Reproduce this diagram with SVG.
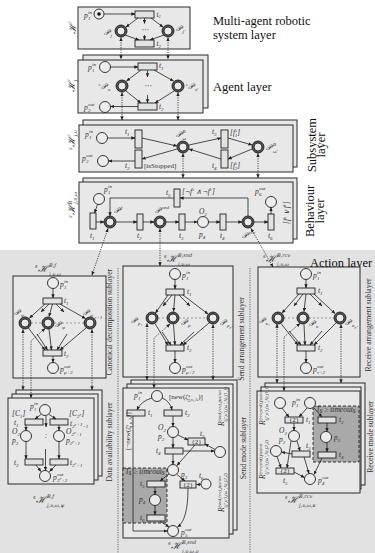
<svg xmlns="http://www.w3.org/2000/svg" width="375" height="553" viewBox="0 0 375 553">
<defs>
<style>
.bx{fill:#e8e8e8;stroke:#2a2a2a;stroke-width:1}
.tr{fill:#e2e2e2;stroke:#222;stroke-width:0.9}
.pl{fill:#ececec;stroke:#222;stroke-width:0.9}
.ar{fill:none;stroke:#222;stroke-width:0.8;marker-end:url(#ah)}
.dt{fill:none;stroke:#333;stroke-width:0.9;stroke-dasharray:1.2 1.2;marker-start:url(#ah);marker-end:url(#ah)}
.dl{fill:none;stroke:#666;stroke-width:0.6;stroke-dasharray:2 2}
.dv{fill:none;stroke:#444;stroke-width:0.8;stroke-dasharray:1.2 1.2}
.m{font-family:"Liberation Serif",serif;font-style:italic;font-size:7.5px;fill:#333}
.r{font-family:"Liberation Serif",serif;font-size:7px;fill:#333}
.s{font-size:5px}
.c{font-family:"DejaVu Serif","Liberation Serif",serif;font-style:italic;font-size:10px;fill:#333}
.t{font-family:"Liberation Serif",serif;font-size:12.5px;fill:#111}
.sl{font-family:"Liberation Serif",serif;font-size:7.7px;fill:#333}
.gb{fill:#a9a9a9;stroke:#222;stroke-width:0.9;stroke-dasharray:3 2}
</style>
<marker id="ah" viewBox="0 0 6 6" refX="5.5" refY="3" markerWidth="4" markerHeight="4" markerUnits="userSpaceOnUse" orient="auto-start-reverse"><path d="M0,0.5 L6,3 L0,5.5 z" fill="#222"/></marker>
<g id="dp"><circle r="6" fill="#555" stroke="#111" stroke-width="0.8"/><circle r="4" fill="#eaeaea" stroke="#111" stroke-width="0.8"/></g>
</defs>
<rect x="0" y="0" width="375" height="553" fill="#ffffff"/>
<rect x="0" y="250" width="375" height="303" fill="#e2e2e2"/>

<g id="mars">
<rect class="bx" x="78" y="7" width="112" height="42"/>
<text class="c" font-size="11" transform="translate(76,28) rotate(-90)" text-anchor="middle">ℋ</text>
<circle class="pl" cx="99" cy="14" r="5"/><circle cx="99" cy="14" r="1.8" fill="#111"/>
<text class="m"><tspan x="84" y="18">p</tspan><tspan class="s" x="88" y="14">in</tspan><tspan class="s" x="88" y="20">1</tspan></text>
<rect class="tr" x="135" y="11" width="19" height="7"/>
<text class="m" x="156.5" y="16.5">t<tspan class="s" dy="1.5">1</tspan></text>
<use href="#dp" x="121" y="31"/><use href="#dp" x="168" y="31"/>
<text class="m"><tspan x="103.5" y="35">𝒫</tspan><tspan class="s" x="110.5" y="37">j</tspan></text>
<text class="m"><tspan x="175.5" y="31">𝒫</tspan><tspan class="s" x="182.5" y="33">j′</tspan></text>
<text class="m" x="144.5" y="32" text-anchor="middle">⋯</text>
<rect class="tr" x="135" y="40" width="19" height="7"/>
<text class="m" x="156.5" y="46">t<tspan class="s" dy="1.5">2</tspan></text>
<text class="t" font-size="12px"><tspan x="213" y="25">Multi-agent robotic</tspan><tspan x="213" y="38.5">system layer</tspan></text>
</g>

<g id="agent">
<rect class="bx" x="83" y="55" width="125" height="53"/>
<rect class="bx" x="78" y="60" width="125" height="53"/>
<text class="c" font-size="11" transform="translate(75,86) rotate(-90)" text-anchor="middle">ℋ<tspan class="s" dy="2">j</tspan></text>
<circle class="pl" cx="105" cy="67" r="5.5"/>
<text class="m"><tspan x="88" y="70">p</tspan><tspan class="s" x="92" y="66">in</tspan><tspan class="s" x="92" y="72">1</tspan></text>
<rect class="tr" x="138" y="63" width="19" height="7"/>
<text class="m" x="159" y="68">t<tspan class="s" dy="1.5">1</tspan></text>
<use href="#dp" x="122" y="86"/><use href="#dp" x="178" y="86"/>
<text class="m"><tspan class="s" x="98.5" y="86">s</tspan><tspan x="101" y="89">𝒫</tspan><tspan class="s" x="108" y="91">υ</tspan></text>
<text class="m"><tspan class="s" x="185.5" y="86">s</tspan><tspan x="188" y="89">𝒫</tspan><tspan class="s" x="195" y="91">υ′</tspan></text>
<text class="m" x="147.5" y="88" text-anchor="middle">⋯</text>
<rect class="tr" x="138" y="103" width="19" height="7"/>
<text class="m" x="159" y="109">t<tspan class="s" dy="1.5">2</tspan></text>
<circle class="pl" cx="105" cy="107" r="5.5"/>
<text class="m"><tspan x="84" y="110">p</tspan><tspan class="s" x="88" y="106">out</tspan><tspan class="s" x="88" y="112">2</tspan></text>
<text class="t" x="213" y="91">Agent layer</text>
</g>

<g id="subsystem">
<rect class="bx" x="83" y="120" width="214" height="47"/>
<rect class="bx" x="79" y="125" width="214" height="47"/>
<text class="c" font-size="11" transform="translate(75,140) rotate(-90)" text-anchor="middle"><tspan class="s" dy="-3">s</tspan><tspan dy="3">ℋ</tspan><tspan class="s" dy="2">j,υ</tspan></text>
<circle class="pl" cx="102" cy="138" r="5.5"/>
<text class="m"><tspan x="85" y="137">p</tspan><tspan class="s" x="89" y="133">in</tspan><tspan class="s" x="89" y="139">1</tspan></text>
<circle class="pl" cx="103" cy="161" r="5.5"/>
<text class="m"><tspan x="82" y="161">p</tspan><tspan class="s" x="86" y="157">out</tspan><tspan class="s" x="86" y="163">2</tspan></text>
<rect class="tr" x="135" y="130" width="7" height="18"/>
<rect class="tr" x="135" y="150" width="7" height="18"/>
<text class="m" x="125" y="134">t<tspan class="s" dy="1.5">1</tspan></text>
<text class="m" x="125" y="168">t<tspan class="s" dy="1.5">2</tspan></text>
<text class="r" x="144" y="168">[isStopped]</text>
<use href="#dp" x="183" y="147"/>
<text class="m"><tspan x="175.5" y="137">𝒫</tspan><tspan class="s" x="182.5" y="133">B</tspan><tspan class="s" x="182.5" y="139.5">ω</tspan></text>
<rect class="tr" x="221" y="130" width="7" height="18"/>
<rect class="tr" x="221" y="150" width="7" height="18"/>
<text class="m" x="212" y="134">t<tspan class="s" dy="1.5">3</tspan></text>
<text class="m" x="212" y="168">t<tspan class="s" dy="1.5">4</tspan></text>
<text class="m" x="230" y="135">[f<tspan class="s" dy="-3">s</tspan><tspan class="s" dx="-2.3" dy="5">1</tspan><tspan dy="-2">]</tspan></text>
<text class="m" x="230" y="168">[f<tspan class="s" dy="-3">s</tspan><tspan class="s" dx="-2.3" dy="5">2</tspan><tspan dy="-2">]</tspan></text>
<use href="#dp" x="258" y="147"/>
<text class="m"><tspan x="266" y="150">𝒫</tspan><tspan class="s" x="273" y="146">B</tspan><tspan class="s" x="273" y="152.5">ω′</tspan></text>
<text class="t" transform="translate(316,145) rotate(-90)" text-anchor="middle">Subsystem</text>
<text class="t" transform="translate(325,145) rotate(-90)" text-anchor="middle">layer</text>
</g>

<g id="behaviour">
<rect class="bx" x="83" y="178" width="214" height="61"/>
<rect class="bx" x="79" y="182" width="214" height="61"/>
<text class="c" font-size="11" transform="translate(75,205) rotate(-90)" text-anchor="middle"><tspan class="s" dy="-3">s</tspan><tspan dy="3">ℋ</tspan><tspan class="s" dy="-3">B</tspan><tspan class="s" dx="-3" dy="5">j,υ,ω</tspan></text>
<circle class="pl" cx="99" cy="199" r="5.5"/>
<text class="m"><tspan x="104" y="192">p</tspan><tspan class="s" x="108" y="188">in</tspan><tspan class="s" x="108" y="194">1</tspan></text>
<rect class="tr" x="90" y="213" width="6" height="16"/>
<text class="m" x="90" y="238">t<tspan class="s" dy="1.5">1</tspan></text>
<use href="#dp" x="110" y="222"/>
<text class="m"><tspan x="114" y="213">𝒫</tspan><tspan class="s" x="121" y="209">f</tspan></text>
<rect class="tr" x="137" y="214" width="6" height="16"/>
<text class="m" x="137" y="238">t<tspan class="s" dy="1.5">2</tspan></text>
<use href="#dp" x="160" y="222"/>
<text class="m"><tspan x="155" y="213">𝒫</tspan><tspan class="s" x="162" y="209">snd</tspan></text>
<rect class="tr" x="179" y="214" width="6" height="16"/>
<text class="m" x="179" y="238">t<tspan class="s" dy="1.5">3</tspan></text>
<circle class="pl" cx="203" cy="222" r="5.5"/>
<text class="m" x="199" y="214">O<tspan class="s" dy="1.5">2</tspan></text>
<text class="m" x="199" y="237">p<tspan class="s" dy="1.5">4</tspan></text>
<rect class="tr" x="220" y="214" width="6" height="16"/>
<text class="m" x="220" y="238">t<tspan class="s" dy="1.5">4</tspan></text>
<use href="#dp" x="248" y="222"/>
<text class="m"><tspan x="242" y="238">𝒫</tspan><tspan class="s" x="249" y="234">rcv</tspan></text>
<rect class="tr" x="268" y="214" width="6" height="16"/>
<text class="m" x="268" y="238">t<tspan class="s" dy="1.5">6</tspan></text>
<circle class="pl" cx="271" cy="202" r="5.5"/>
<text class="m"><tspan x="255" y="194">p</tspan><tspan class="s" x="259" y="190">out</tspan><tspan class="s" x="259" y="196">6</tspan></text>
<rect class="tr" x="174" y="189" width="6" height="18"/>
<text class="m" x="166" y="195">t<tspan class="s" dy="1.5">5</tspan></text>
<text class="m" x="182" y="194">[¬f<tspan class="s" dy="-3">s</tspan><tspan dy="3"> ∧ ¬f</tspan><tspan class="s" dy="-3">r</tspan><tspan dy="3">]</tspan></text>
<text class="m" transform="translate(289,224) rotate(-90)">[f<tspan class="s" dy="-3">s</tspan><tspan dy="3"> ∨ f</tspan><tspan class="s" dy="-3">r</tspan><tspan dy="3">]</tspan></text>
<text class="t" transform="translate(314,211) rotate(-90)" text-anchor="middle">Behaviour</text>
<text class="t" transform="translate(324,211) rotate(-90)" text-anchor="middle">layer</text>
</g>

<g id="action-layer">
<text class="t" x="310" y="267">Action layer</text>
<path class="dv" d="M118,268 V553 M250,268 V553"/>
<text class="sl" transform="translate(112,322) rotate(-90)" text-anchor="middle">Canonical decomposition sublayer</text>
<text class="sl" transform="translate(112,442) rotate(-90)" text-anchor="middle">Data availability sublayer</text>
<text class="sl" transform="translate(244,339) rotate(-90)" text-anchor="middle">Send arrangement sublayer</text>
<text class="sl" transform="translate(246,448) rotate(-90)" text-anchor="middle">Send mode sublayer</text>
<text class="sl" transform="translate(371,325) rotate(-90)" text-anchor="middle">Receive arrangement sublayer</text>
<text class="sl" transform="translate(373,437) rotate(-90)" text-anchor="middle">Receive mode sublayer</text>
</g>

<g id="canonical">
<text class="c" font-size="9"><tspan class="s" x="35" y="268">s</tspan><tspan x="38" y="272">ℋ</tspan><tspan class="s" x="49" y="266.5">B,f</tspan><tspan class="s" x="49" y="275.5">j,υ,ω</tspan></text>
<rect class="bx" x="13" y="276" width="93" height="102"/>
<circle class="pl" cx="53" cy="283" r="5.5"/>
<text class="m"><tspan x="60" y="287">p</tspan><tspan class="s" x="64" y="283">in</tspan><tspan class="s" x="64" y="289">1</tspan></text>
<rect class="tr" x="43" y="298" width="19" height="6"/>
<text class="m" x="64" y="303">t<tspan class="s" dy="1.5">1</tspan></text>
<use href="#dp" x="25" y="323"/><use href="#dp" x="48" y="323"/><use href="#dp" x="90" y="323"/>
<text class="m"><tspan x="14" y="315">𝒫</tspan><tspan class="s" x="21" y="317">ψ₁</tspan></text>
<text class="m"><tspan x="55" y="327">𝒫</tspan><tspan class="s" x="62" y="329">ψ</tspan></text>
<text class="m"><tspan x="83" y="315">𝒫</tspan><tspan class="s" x="90" y="317">ψ</tspan><tspan class="s" font-size="3.6px" x="94.5" y="318.5">r+1</tspan></text>
<path class="dl" d="M31,323 H42 M54,323 H84"/>
<rect class="tr" x="43" y="350" width="19" height="6"/>
<text class="m" x="64" y="356">t<tspan class="s" dy="1.5">2</tspan></text>
<circle class="pl" cx="53" cy="368" r="5.5"/>
<text class="m"><tspan x="60" y="372">p</tspan><tspan class="s" x="64" y="368">out</tspan><tspan class="s" x="64" y="374">μ+3</tspan></text>
</g>

<g id="data-availability">
<rect class="bx" x="16" y="390" width="86" height="86"/>
<rect class="bx" x="12" y="394" width="86" height="86"/>
<rect class="bx" x="8" y="398" width="86" height="86"/>
<circle class="pl" cx="45" cy="410" r="5.5"/>
<text class="m"><tspan x="30" y="409">p</tspan><tspan class="s" x="34" y="405">in</tspan><tspan class="s" x="34" y="411">1</tspan></text>
<rect class="tr" x="25" y="419" width="18" height="6"/>
<rect class="tr" x="50" y="419" width="18" height="6"/>
<text class="m" x="12" y="416">[C<tspan class="s" dy="1.5">1</tspan><tspan dy="-1.5">]</tspan></text>
<text class="m" x="14" y="425">t<tspan class="s" dy="1.5">1</tspan></text>
<text class="m" x="69" y="416">[C<tspan class="s" dy="1.5">2</tspan><tspan class="s" font-size="3.5px" dy="-2">r</tspan><tspan dy="0.5">]</tspan></text>
<text class="m" x="70" y="426">t<tspan class="s" dy="1.5">2</tspan><tspan class="s" font-size="3.5px" dy="-2">r+1</tspan><tspan class="s" dy="2">−1</tspan></text>
<circle class="pl" cx="26" cy="436" r="5.5"/>
<circle class="pl" cx="59" cy="436" r="5.5"/>
<text class="m" x="12" y="434">O<tspan class="s" dy="1.5">2</tspan></text>
<text class="m" x="12" y="443">p<tspan class="s" dy="1.5">2</tspan></text>
<text class="m" x="66" y="434">O<tspan class="s" dy="1.5">2</tspan><tspan class="s" font-size="3.5px" dy="-2">r</tspan><tspan class="s" dy="2">+1</tspan></text>
<text class="m" x="66" y="443">p<tspan class="s" dy="1.5">2</tspan><tspan class="s" font-size="3.5px" dy="-2">r</tspan><tspan class="s" dy="2">+1</tspan></text>
<text class="m" x="46" y="438" text-anchor="middle">:</text>
<rect class="tr" x="25" y="459" width="18" height="6"/>
<rect class="tr" x="50" y="459" width="18" height="6"/>
<text class="m" x="14" y="465">t<tspan class="s" dy="1.5">2</tspan></text>
<text class="m" x="70" y="465">t<tspan class="s" dy="1.5">2</tspan><tspan class="s" font-size="3.5px" dy="-2">r</tspan><tspan class="s" dy="2">+1</tspan></text>
<circle class="pl" cx="45" cy="476" r="5.5"/>
<text class="m"><tspan x="53" y="480">p</tspan><tspan class="s" x="57" y="476">out</tspan><tspan class="s" x="57" y="482">2</tspan><tspan class="s" font-size="3.5px" x="59.5" y="480">r</tspan><tspan class="s" x="61.5" y="482">+2</tspan></text>
<text class="c" font-size="9"><tspan class="s" x="33" y="499">s</tspan><tspan x="36" y="503">ℋ</tspan><tspan class="s" x="47" y="497.5">B,f</tspan><tspan class="s" x="47" y="506.5">j,υ,ω,ψ</tspan></text>
</g>

<g id="send-arrangement">
<text class="c" font-size="9"><tspan class="s" x="164" y="258">s</tspan><tspan x="167" y="262">ℋ</tspan><tspan class="s" x="178" y="256.5">B,snd</tspan><tspan class="s" x="178" y="265.5">j,υ,ω</tspan></text>
<rect class="bx" x="123" y="266" width="110" height="111"/>
<circle class="pl" cx="175" cy="274" r="5.5"/>
<text class="m"><tspan x="182" y="278">p</tspan><tspan class="s" x="186" y="274">in</tspan><tspan class="s" x="186" y="280">1</tspan></text>
<rect class="tr" x="166" y="289" width="18" height="6"/>
<text class="m" x="187" y="294">t<tspan class="s" dy="1.5">1</tspan></text>
<use href="#dp" x="152" y="318"/><use href="#dp" x="173" y="318"/><use href="#dp" x="213" y="318"/>
<text class="m"><tspan x="131" y="323">𝒫</tspan><tspan class="s" x="138" y="325">ρ₁</tspan></text>
<text class="m"><tspan x="181" y="325">𝒫</tspan><tspan class="s" x="188" y="327">ρ</tspan></text>
<text class="m"><tspan x="220" y="325">𝒫</tspan><tspan class="s" x="227" y="327">ρ</tspan><tspan class="s" font-size="3.6px" x="229.5" y="328.5">r′</tspan></text>
<path class="dl" d="M158,318 H167 M179,318 H207"/>
<rect class="tr" x="166" y="345" width="18" height="6"/>
<text class="m" x="187" y="350">t<tspan class="s" dy="1.5">2</tspan></text>
<circle class="pl" cx="175" cy="368" r="5.5"/>
<text class="m"><tspan x="182" y="372">p</tspan><tspan class="s" x="186" y="368">out</tspan><tspan class="s" x="186" y="374">μ+2</tspan></text>
</g>

<g id="send-mode">
<rect class="bx" x="131" y="380" width="106" height="150"/>
<rect class="bx" x="127" y="384" width="106" height="150"/>
<rect class="bx" x="123" y="388" width="106" height="150"/>
<rect class="gb" x="123" y="468" width="44" height="55"/>
<text class="m" font-size="5px" x="125" y="474">T<tspan dy="1">s</tspan><tspan dy="-1"> ≥ timeout</tspan><tspan dy="1">s</tspan></text>
<circle class="pl" cx="157" cy="396" r="5.5"/>
<text class="m"><tspan x="134" y="398">p</tspan><tspan class="s" x="138" y="394">in</tspan><tspan class="s" x="138" y="400">1</tspan></text>
<text class="r" font-size="6px" x="169" y="399">[new(ζ<tspan class="s" dy="-2.5">s</tspan><tspan class="s" dx="-2" dy="4">j,υ,A</tspan><tspan dy="-1.5">)]</tspan></text>
<rect class="tr" x="127" y="410" width="18" height="6"/>
<text class="m" x="148" y="415">t<tspan class="s" dy="1.5">1</tspan></text>
<rect class="tr" x="164" y="410" width="18" height="6"/>
<text class="m" x="185" y="415">t<tspan class="s" dy="1.5">2</tspan></text>
<text class="r" font-size="6px" transform="translate(130,450) rotate(-90)">[¬new(ζ<tspan class="s" dy="-2.5">s</tspan><tspan class="s" dx="-2" dy="4">j,υ,A</tspan><tspan dy="-1.5">)]</tspan></text>
<circle class="pl" cx="173" cy="432" r="5.5"/>
<text class="m" x="158" y="430">O<tspan class="s" dy="1.5">2</tspan></text>
<text class="m" x="158" y="439">p<tspan class="s" dy="1.5">2</tspan></text>
<rect class="tr" x="188" y="438" width="17" height="7"/>
<text class="r" font-size="5.5px" x="196.5" y="443.5" text-anchor="middle">{2}</text>
<text class="m" x="200" y="436">t<tspan class="s" dy="1.5">3</tspan></text>
<circle class="pl" cx="220" cy="452" r="5.5"/>
<text class="m" font-size="6px" transform="translate(224,426) rotate(-90)"><tspan x="0" y="0">R</tspan><tspan class="s" font-size="4.2px" x="4.5" y="-2.8">(snd,rcv),fusion</tspan><tspan class="s" font-size="4.2px" x="4.5" y="3.2">(j′,υ′),(ω′,A),(1,1)</tspan></text>
<rect class="tr" x="165" y="448" width="18" height="6"/>
<text class="m" x="156" y="453">t<tspan class="s" dy="1.5">4</tspan></text>
<circle class="pl" cx="173" cy="470" r="5.5"/>
<text class="m" x="181" y="477">p<tspan class="s" dy="1.5">3</tspan></text>
<rect class="tr" x="147" y="481" width="18" height="6"/>
<text class="m" x="140" y="486">t<tspan class="s" dy="1.5">5</tspan></text>
<circle class="pl" cx="155" cy="500" r="5.5"/>
<text class="m" x="139" y="502">p<tspan class="s" dy="1.5">4</tspan></text>
<rect class="tr" x="147" y="515" width="18" height="6"/>
<text class="m" x="140" y="520">t<tspan class="s" dy="1.5">6</tspan></text>
<rect class="tr" x="180" y="481" width="16" height="7"/>
<text class="r" font-size="5.5px" x="188" y="486.5" text-anchor="middle">{2}</text>
<text class="m" x="199" y="478">t<tspan class="s" dy="1.5">6</tspan></text>
<circle class="pl" cx="206" cy="484" r="5"/>
<text class="m" font-size="6px" transform="translate(224,512) rotate(-90)"><tspan x="0" y="0">R</tspan><tspan class="s" font-size="4.2px" x="4.5" y="-2.8">(snd,rcv),fusion</tspan><tspan class="s" font-size="4.2px" x="4.5" y="3.2">(j′,υ′),(ω′,A),(2,2)</tspan></text>
<circle class="pl" cx="173" cy="531" r="5.5"/>
<text class="m"><tspan x="181" y="535">p</tspan><tspan class="s" x="185" y="531">out</tspan><tspan class="s" x="185" y="537">5</tspan></text>
<text class="c" font-size="9"><tspan class="s" x="168" y="545">s</tspan><tspan x="171" y="549">ℋ</tspan><tspan class="s" x="182" y="543.5">B,snd</tspan><tspan class="s" x="182" y="552.5">j,υ,ω,ρ</tspan></text>
</g>

<g id="receive-arrangement">
<text class="c" font-size="9"><tspan class="s" x="263" y="258">s</tspan><tspan x="266" y="262">ℋ</tspan><tspan class="s" x="277" y="256.5">B,rcv</tspan><tspan class="s" x="277" y="265.5">j,υ,ω</tspan></text>
<rect class="bx" x="258" y="267" width="102" height="110"/>
<circle class="pl" cx="306" cy="274" r="5.5"/>
<text class="m"><tspan x="313" y="278">p</tspan><tspan class="s" x="317" y="274">in</tspan><tspan class="s" x="317" y="280">1</tspan></text>
<rect class="tr" x="297" y="288" width="18" height="6"/>
<text class="m" x="318" y="293">t<tspan class="s" dy="1.5">1</tspan></text>
<use href="#dp" x="278" y="318"/><use href="#dp" x="303" y="318"/><use href="#dp" x="340" y="318"/>
<text class="m"><tspan x="258.5" y="323">𝒫</tspan><tspan class="s" x="265.5" y="325">κ₁</tspan></text>
<text class="m"><tspan x="309" y="326">𝒫</tspan><tspan class="s" x="316" y="328">κ</tspan></text>
<text class="m"><tspan x="345" y="325">𝒫</tspan><tspan class="s" x="352" y="327">κ</tspan><tspan class="s" font-size="3.6px" x="354.5" y="328.5">r′</tspan></text>
<path class="dl" d="M284,318 H297 M309,318 H334"/>
<rect class="tr" x="297" y="345" width="18" height="6"/>
<text class="m" x="318" y="350">t<tspan class="s" dy="1.5">2</tspan></text>
<circle class="pl" cx="306" cy="368" r="5.5"/>
<text class="m"><tspan x="313" y="372">p</tspan><tspan class="s" x="317" y="368">out</tspan><tspan class="s" x="317" y="374">ν+2</tspan></text>
</g>

<g id="receive-mode">
<rect class="bx" x="265" y="383" width="100" height="102"/>
<rect class="bx" x="261" y="387" width="100" height="102"/>
<rect class="bx" x="257" y="391" width="103" height="102"/>
<rect class="gb" x="313" y="406" width="46" height="56"/>
<text class="m" font-size="5px" x="316" y="412">T<tspan dy="1">s</tspan><tspan dy="-1"> ≥ timeout</tspan><tspan dy="1">s</tspan></text>
<circle class="pl" cx="280" cy="403" r="5.5"/>
<text class="m" font-size="6px" transform="translate(265,425) rotate(-90)"><tspan x="0" y="0">R</tspan><tspan class="s" font-size="4.2px" x="4.5" y="-2.8">(rcv,snd),fusion</tspan><tspan class="s" font-size="4.2px" x="4.5" y="3.2">(j′,υ′),(ω′,A),(1,1)</tspan></text>
<circle class="pl" cx="310" cy="403" r="5.5"/>
<text class="m"><tspan x="292" y="405">p</tspan><tspan class="s" x="296" y="401">in</tspan><tspan class="s" x="296" y="407">1</tspan></text>
<rect class="tr" x="285" y="417" width="18" height="6"/>
<text class="r" font-size="5.5px" x="294" y="422" text-anchor="middle">{2}</text>
<text class="m" x="306" y="422">t<tspan class="s" dy="1.5">1</tspan></text>
<rect class="tr" x="318" y="417" width="18" height="6"/>
<text class="m" x="339" y="422">t<tspan class="s" dy="1.5">2</tspan></text>
<circle class="pl" cx="294" cy="436" r="5.5"/>
<text class="m" x="279" y="433">O<tspan class="s" dy="1.5">2</tspan></text>
<text class="m" x="279" y="442">p<tspan class="s" dy="1.5">2</tspan></text>
<circle class="pl" cx="326" cy="437" r="5.5"/>
<text class="m" x="334" y="440">p<tspan class="s" dy="1.5">3</tspan></text>
<rect class="tr" x="292" y="451" width="18" height="6"/>
<text class="m" x="306" y="448">t<tspan class="s" dy="1.5">3</tspan></text>
<rect class="tr" x="318" y="452" width="18" height="6"/>
<text class="m" x="339" y="457">t<tspan class="s" dy="1.5">4</tspan></text>
<circle class="pl" cx="276" cy="451" r="5.5"/>
<text class="m" font-size="6px" transform="translate(265,479) rotate(-90)"><tspan x="0" y="0">R</tspan><tspan class="s" font-size="4.2px" x="4.5" y="-2.8">(rcv,snd),fusion</tspan><tspan class="s" font-size="4.2px" x="4.5" y="3.2">(j′,υ′),(ω′,A),(2,2)</tspan></text>
<rect class="tr" x="276" y="468" width="18" height="6"/>
<text class="r" font-size="5.5px" x="285" y="473" text-anchor="middle">{2}</text>
<text class="m" x="283" y="483">t<tspan class="s" dy="1.5">5</tspan></text>
<circle class="pl" cx="310" cy="479" r="5.5"/>
<text class="m"><tspan x="318" y="483">p</tspan><tspan class="s" x="322" y="479">out</tspan><tspan class="s" x="322" y="485">4</tspan></text>
<text class="c" font-size="9"><tspan class="s" x="285" y="499">s</tspan><tspan x="288" y="503">ℋ</tspan><tspan class="s" x="299" y="497.5">B,rcv</tspan><tspan class="s" x="299" y="506.5">j,υ,ω,κ</tspan></text>
</g>

<g id="connectors">
<path class="ar" d="M104,14 H135"/>
<path class="ar" d="M138,18 L126,27"/>
<path class="ar" d="M151,18 L163,27"/>
<path class="ar" d="M144.5,18 V23.5"/>
<path class="ar" d="M144.5,35 V40"/>
<path class="ar" d="M125,35 L139,40"/>
<path class="ar" d="M164,35 L150,40"/>
<path class="dt" d="M121,37.5 V59"/>
<path class="dt" d="M168,37.5 V59"/>
<path class="ar" d="M110.5,67 H138"/>
<path class="ar" d="M141,70 L126.5,81"/>
<path class="ar" d="M154,70 L173.5,81"/>
<path class="ar" d="M147.5,70.5 V77"/>
<path class="ar" d="M147.5,95 V103"/>
<path class="ar" d="M126,91 L141,103"/>
<path class="ar" d="M174,91 L155,103"/>
<path class="ar" d="M138,106.5 H110.5"/>
<path class="dt" d="M122,92.5 V120"/>
<path class="dt" d="M178,92.5 V120"/>
<path class="ar" d="M107.5,138 H135"/>
<path class="ar" d="M142,138 L177,146"/>
<path class="ar" d="M177,149 L142,159"/>
<path class="ar" d="M189,145 L221,138"/>
<path class="ar" d="M221,159 L189,149"/>
<path class="ar" d="M228,138 L252,145"/>
<path class="ar" d="M252,149 L228,159"/>
<path class="ar" d="M135,161 H108.5"/>
<path class="dt" d="M183,153.5 V178"/>
<path class="dt" d="M258,153.5 V178"/>
<path class="ar" d="M97.5,204.5 L94.5,213"/>
<path class="ar" d="M96,222 H104"/>
<path class="ar" d="M116,222 H137"/>
<path class="ar" d="M143,222 H154"/>
<path class="ar" d="M166,222 H179"/>
<path class="ar" d="M185,222 H197.5"/>
<path class="ar" d="M208.5,222 H220"/>
<path class="ar" d="M226,222 H242"/>
<path class="ar" d="M254,222 H268"/>
<path class="ar" d="M271,214 V207.5"/>
<path class="ar" d="M248,216 V198 H180"/>
<path class="ar" d="M174,198 H110 V216"/>
<path class="dt" d="M108,228.5 L92,275"/>
<path class="dt" d="M160,228.5 V266"/>
<path class="dt" d="M251,228.5 L273,267"/>
<path class="ar" d="M53,288.5 V298"/>
<path class="ar" d="M45,304 L29.5,318"/>
<path class="ar" d="M49,304 L41,312"/>
<path class="ar" d="M52.5,304 L49,316.5"/>
<path class="ar" d="M56,304 L64,312"/>
<path class="ar" d="M60,304 L85.5,318.5"/>
<path class="ar" d="M28.5,328 L45,350"/>
<path class="ar" d="M37,334 L47.5,350"/>
<path class="ar" d="M49,329 L51.5,350"/>
<path class="ar" d="M67,334 L57,350"/>
<path class="ar" d="M86,328 L60,350"/>
<path class="ar" d="M53,356 V362.5"/>
<path class="dt" d="M23,329.5 V390"/>
<path class="dt" d="M45,328.5 L31,341 V398"/>
<path class="dt" d="M92,329.5 V390"/>
<path class="ar" d="M41,414.5 L35,419"/>
<path class="ar" d="M49,414.5 L56,419"/>
<path class="ar" d="M46,416 V427"/>
<path class="ar" d="M26,425 V430.5"/>
<path class="ar" d="M59,425 V430.5"/>
<path class="ar" d="M26,441.5 V459"/>
<path class="ar" d="M59,441.5 V459"/>
<path class="ar" d="M45.5,449 V470.5"/>
<path class="ar" d="M36,465 L41,471.5"/>
<path class="ar" d="M56,465 L49.5,471.5"/>
<path class="ar" d="M175,279.5 V289"/>
<path class="ar" d="M168,295 L155.5,313"/>
<path class="ar" d="M172,295 L163,306"/>
<path class="ar" d="M175,295 L173.5,311.5"/>
<path class="ar" d="M179,295 L190,306"/>
<path class="ar" d="M183,295 L208,314"/>
<path class="ar" d="M155,323.5 L168,345"/>
<path class="ar" d="M162,332 L171,345"/>
<path class="ar" d="M173.5,324.5 L175,345"/>
<path class="ar" d="M194,332 L180,345"/>
<path class="ar" d="M209,323 L183,345"/>
<path class="ar" d="M175,351 V362.5"/>
<path class="dt" d="M147,323.5 V380"/>
<path class="dt" d="M170,324 L154,338 V388"/>
<path class="dt" d="M213,324.5 V380"/>
<path class="ar" d="M152,398 Q141,401 137,410"/>
<path class="ar" d="M162,398 Q170,401 172,410"/>
<path class="ar" d="M133,416 V531 H167.5"/>
<path class="ar" d="M173,416 V426.5"/>
<path class="ar" d="M178,435 L188,440"/>
<path class="ar" d="M215,449.5 L205,444"/>
<path class="ar" d="M173,437.5 V448"/>
<path class="ar" d="M183,451 H214.5"/>
<path class="ar" d="M195,445 L177,465.5"/>
<path class="ar" d="M173,454 V464.5"/>
<path class="ar" d="M169,474 L160,481"/>
<path class="ar" d="M155,487 V494.5"/>
<path class="ar" d="M155,505.5 V515"/>
<path class="ar" d="M160,521 L169,527"/>
<path class="ar" d="M177,474.5 L185,481"/>
<path class="ar" d="M201,484.5 H196.5"/>
<path class="ar" d="M188,488 Q188,520 177.5,527"/>
<path class="ar" d="M306,279.5 V288"/>
<path class="ar" d="M299,294 L282,313"/>
<path class="ar" d="M303,294 L294,306"/>
<path class="ar" d="M306,294 L304,311.5"/>
<path class="ar" d="M310,294 L322,306"/>
<path class="ar" d="M314,294 L335,313.5"/>
<path class="ar" d="M281,323.5 L298,345"/>
<path class="ar" d="M289,331 L301,345"/>
<path class="ar" d="M304,324.5 L305,345"/>
<path class="ar" d="M322,331 L310,345"/>
<path class="ar" d="M336,323 L314,345"/>
<path class="ar" d="M306,351 V362.5"/>
<path class="dt" d="M277,324 V383"/>
<path class="dt" d="M300,323.5 L284,337 V391"/>
<path class="dt" d="M341,324.5 V383"/>
<path class="ar" d="M282,408 L289,417"/>
<path class="ar" d="M307,408 L299,417"/>
<path class="ar" d="M314,408 L322,417"/>
<path class="ar" d="M294,423 V430.5"/>
<path class="ar" d="M327,423 V431.5"/>
<path class="ar" d="M327,442.5 V452"/>
<path class="ar" d="M322,458 L314,474.5"/>
<path class="ar" d="M297,441 L300,451"/>
<path class="ar" d="M292,454 L281.5,452"/>
<path class="ar" d="M304,457 L309,473.5"/>
<path class="ar" d="M291,441 L287,468"/>
<path class="ar" d="M277,456.5 L281,468"/>
<path class="ar" d="M294,472 L304.5,477.5"/>
</g>
</svg>
